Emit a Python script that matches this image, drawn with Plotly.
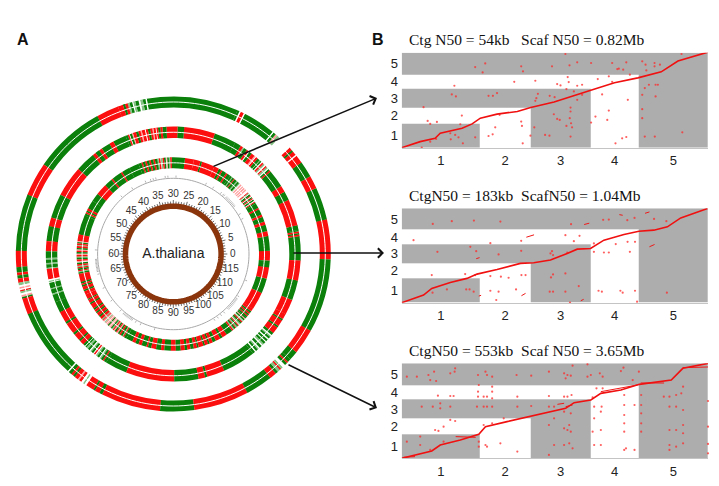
import plotly.graph_objects as go

W, H = 719, 486

# ---------- Panel A: rings, each segment = (class, span in degrees), counter-clockwise
CLASS_COLOR = {"g": "#0b800b", "r": "#fb0f0f", "w": "#ffffff", "lg": "#86c286", "lr": "#ff9c9c"}

ring1_start = -2
ring1 = [("r",14.8),("g",12),("r",4.8),("g",6),("r",3),("w",.5),("r",1.5),("g",.7),("r",1.2),("w",5.3),
 ("lg",1),("lr",.7),("g",1),("w",.5),("g",12),("w",.5),("r",1.2),("w",.5),("g",.8),("g",33.8),
 ("w",.5),("g",1),("lg",1),("w",.6),("g",1.2),("lg",.8),("w",.4),("g",1),("lg",.7),("r",1),("g",.8),("r",1.9),
 ("r",8.3),("g",26.5),("r",12.5),("g",21),("r",6),("g",2),("r",1),("g",1.2),("r",1.5),("lg",1),
 ("w",.7),("lr",.6),("w",.5),("r",.5),("lg",.7),("w",.7),("lr",.7),("g",.6),("r",6),("g",25.5),
 ("w",.5),("g",1.2),("r",.8),("g",.8),("r",1.4),("lr",.6),("r",1),("w",.8),("lg",.6),("w",.8),("r",3),
 ("g",.7),("r",1.8),("g",1.2),("r",22),("g",12.6),("r",20.4),("g",10),("r",2.5),("g",1),("lg",1),("r",.6),
 ("lg",.8),("w",1.2),("g",1),("r",.6),("g",1.2),("g",3.4),("r",9.4),("g",27.2)]

ring2_start = -3
ring2 = [("g",11),("r",.8),("g",.6),("r",.8),("g",.6),("g",2.2),("r",12),("g",4),("r",3),("g",8),
 ("r",.7),("g",.8),("w",.5),("lg",.8),("r",.6),("w",.6),("lg",.7),("r",.8),("w",.5),("g",.8),("w",.2),
 ("g",1.2),("r",1),("w",.3),("lr",.6),("r",1.6),("g",1.3),("w",.4),("r",1),("g",1.5),("lg",.6),("r",1.2),("g",2.8),
 ("g",10),("r",14),("g",3),("r",5),("g",1.8),("r",1),("g",1),("r",.8),("w",.3),("r",1),("lr",.5),("r",1),("g",1),
 ("r",1),("w",.4),("r",1.4),("lr",.6),("r",1),("g",1.1),("r",1.4),("lr",.5),("g",1),("w",.3),("r",.7),("g",1),
 ("g",6),("r",2),("g",4),("r",1.5),("g",2),("r",1.5),("g",9),("r",14),("g",11),("r",4),("g",6.7),("r",4.6),
 ("g",3),("lg",.8),("g",1.5),("lg",.7),("g",1.5),("lg",.5),("r",4.7),("w",.7),("lg",.6),("w",.3),("g",2.5),("lg",.5),
 ("g",2),("lg",.6),("g",3.4),("g",5),("r",5),("g",1),("r",5),("g",1),("r",3),("g",.8),("r",2),("g",1),("w",.3),("g",.7),
 ("lg",.8),("g",1),("w",.5),("lg",.6),("g",1),("w",.4),("r",.7),("w",.4),("lg",.8),("g",1),("w",.4),("lg",.6),("g",1),("r",.6),("g",1.2),
 ("g",10),("r",22),("g",11),("r",3),("g",1),("r",8),("g",15),
 ("g",1.2),("w",.6),("g",1),("lg",.6),("w",.6),("g",1.2),("w",.6),("lg",.8),("g",1),("w",.5),("g",1),("w",.6),("g",1),("lg",.6),("w",.5),("g",1.2),
 ("r",3),("g",.8),("r",3),("g",.7),("r",2.5),("r",7),("g",9),("r",9)]

ring3_start = -4
ring3 = [("r",6),("g",9),("r",3),("g",4),("r",2),("g",3),("r",1.5),("g",3.5),("r",1),("g",3),
 ("g",.8),("r",.6),("w",.5),("g",1),("w",.3),("r",.7),("g",.8),("w",.5),("r",.6),("g",1),("w",.4),("lg",.5),("r",.6),("w",1.5),
 ("lr",.8),("w",.4),("lr",1),("w",.4),("lr",.8),("w",.6),("lr",1),("w",.5),("lg",.6),("g",1.2),("lg",.8),("g",1.5),("r",.6),("g",1),("lg",.5),("g",1.3),
 ("g",2),("r",1),("g",2.5),("r",1),("g",1.5),("r",3),("r",8),("g",1),("r",4),("r",5.5),("g",8),
 ("r",1),("lg",.8),("g",1),("lr",.6),("w",.3),("g",1),("r",1),("lg",1),("w",.3),("r",1),("lg",.8),("g",1.5),("r",1),("g",1.6),("r",1),("g",1.5),("r",1),("g",1.5),("r",.8),("g",1.8),
 ("g",6),("g",5),("r",1),("g",6),("r",1),("g",5),("r",7),("g",5),("g",5.3),("r",1.4),("g",1),("r",1),("g",1.3),("g",12),
 ("r",4),("lr",.6),("g",.8),("r",1),("lg",.6),("r",1.2),("g",1),("lr",.7),("r",.8),("g",1),("lr",.8),("r",1),("lg",.7),("g",1),("r",1),("lr",.6),("w",.3),("g",1),("r",1),("lg",.8),("r",.8),("g",1),("r",.7),("lg",.6),("g",1),
 ("r",5),("g",1),("r",1),("g",1),("r",2),("g",1),("r",2),("r",3),("g",.7),("r",2),("g",1),("r",3),("g",1),("r",1.5),("g",1),("r",2),("g",1),("r",1.6),
 ("lg",.7),("r",.6),("lr",.8),("w",.3),("lg",.7),("lr",.8),("w",.3),("lr",.8),("g",.8),("lr",.7),("w",.3),("lr",.8),("g",.8),("lg",.7),("r",.7),("lr",.7),("g",1),("r",.7),("lr",.7),("g",1),
 ("r",1),("g",1.2),("lg",.5),("r",.7),("g",1.6),("g",4),("r",2),("g",2),("r",2),("g",3),("r",1),("g",2),("r",3),("g",3),("r",2),("g",4),("r",3),("g",3),("r",2.5),("g",1.5),("r",2),("g",2),("r",2),("g",1),("r",3),("g",1),("r",2),("g",1),("r",2),("g",2),("r",3),("g",1.5),("r",3),("g",4),
 ("r",1),("lg",.7),("g",1),("r",.5),("lg",.7),("g",.8),("r",.7),("w",.4),("lg",.8),("g",1),("r",.7),("lg",.6),("w",.4),("g",1),("lr",.6),("g",.8),
 ("g",1),("r",.7),("g",1),("r",1),("g",1),("r",1.8),("r",11),("g",9),("r",7),("g",4)]

ring_bands = [(146.5, 157.5), (116.0, 127.5), (85.7, 96.7)]

# genome scale of the inner circle (Mb, 120 Mb = full circle)
scale_labels = list(range(0, 120, 5))
scale_minor = list(range(0, 120, 1))
# gene marks on the grey circle (degrees)
gene_marks = [88,94,96,103,105,107,111,122,132,65,59,52,50,49,47,46,45,44,43,42,41,40,39,38,31,27,
              177,184,185,186,187,188,189,190,191,192,193,195,206,217,227,230,231,232,233,234,235,236,237,238,241,245,256,
              302,305,308,311,315,316,317,318,319,320,321,322,323,324,325,327,340]

# ---------- Panel B: chromosome boundaries in Mb
chr_edges = [0, 30.4, 50.1, 73.6, 92.2, 119.2]
chr_names = ["1", "2", "3", "4", "5"]

titles = ["Ctg N50 = 54kb\u00a0\u00a0\u00a0Scaf N50 = 0.82Mb",
          "CtgN50 = 183kb\u00a0\u00a0ScafN50 = 1.04Mb",
          "CtgN50 = 553kb\u00a0\u00a0Scaf N50 = 3.65Mb"]

d1_x = [0,7.2,13,15,23.5,27.4,30.6,37.1,45,50.2,59.3,65.8,73.6,82.8,91.9,101,107.5,119.2]
d1_y = [0,7.6,11.8,18.1,24.4,29.9,37,42.1,45.5,50.5,57.3,64.4,72.1,81.4,87.6,95.2,108.7,120]
p1_x = [7.8,8.5,10.1,11.1,13.7,20.5,19.5,21.1,23.4,22.8,28.6,18.9,20.8,22.1,19.1,23.8,11.1,13.4,28.6,32.5,31.5,33.8,35.5,37.1,33.8,35.4,36.4,38.1,43.8,46.5,47.2,46.5,46.8,47.1,50.1,52,53,52.4,52,51.6,58.5,55.8,57.5,57.6,59.5,59.2,60.5,61.5,60.5,61.8,63.7,65.3,68.3,64.6,65,64.1,67,68.3,70.2,65.7,65.7,65.4,65.9,64.1,66.3,65.7,68.3,70.2,73.7,73.7,75.4,76.3,78,80.6,81.9,80,80.6,83.2,85.8,87.4,88,81.9,83.9,84.5,86.2,87.4,88.8,93.6,94.9,95.2,98.4,98.4,100.5,94.6,96.2,98.8,99.7,93.6,98.8,93.6,93.6,94.6,98.5,109.2,108.9]
p1_y = [0,50.8,33.6,29.8,32.3,77.7,66.8,64.3,40.3,29.4,13,18.1,16,13,10.5,5.5,7.6,10.9,101.2,105.8,94.5,65.1,65.1,68.5,14.7,16.8,25.6,41.2,82.7,102.1,95.8,32.8,27.3,5.5,15.1,84,67.6,62.2,58.8,25.6,102.1,16,15.1,65.1,63.4,42,36.1,34.9,79.8,78.1,117.6,103.3,107.1,88.6,82.3,73.5,70.6,77.7,79,50.4,45.4,37,30.7,27.3,25.6,13.9,60.1,66.4,106.3,31.5,39.1,86.1,66.8,89.5,82.7,34.9,46.6,5.5,11.8,13.4,60.1,106.3,98.7,99.1,97.9,107.1,91.6,108.4,104.2,97,106.3,102.1,104.2,74.8,79,79,79,66.4,64.3,48.3,37,13.9,13.9,19.3,117.6]

d2_x = [0,8.5,11.7,18.9,25.4,29.3,37.1,46.2,51.4,57.9,64.4,68.3,73.5,78.7,86.5,92.3,98.1,103.4,108.6,113.8,119]
d2_y = [0,9.7,18.1,25.6,30.7,36.1,42,49.6,50.4,53.8,62.2,67.6,68.5,79,86.1,90.3,91.6,95.8,107.1,113.4,118.9]
s2_x = [48.5,51.5,None,71,73,None,94.7,96.4,None,96.4,98.4,None,46.6,48.2,None,69.7,70.8,None,29,30.3,None,30,30.9,None,84.7,86]
s2_y = [82.7,85.7,None,98.7,100.4,None,112.9,114.6,None,70.6,73.5,None,8.8,11.8,None,2.5,4.2,None,55.6,56.9,None,8.4,9.3,None,111.2,110.4]
p2_x = [4.6,12.1,19.5,28.1,38.4,65.9,78.4,80.6,87.8,90.6,98.2,103,34.5,26.7,29,13.9,37.7,46.5,46.5,63.7,69.2,67,57.9,58.5,58.9,64.4,74.8,78.7,80.6,88.8,87.9,90.8,83.3,74.8,11.7,24.7,28.6,34.5,38.6,41.6,46.6,48.2,58.9,58.1,63.7,68.9,57.6,58.9,63.7,12,17.6,25.1,26.4,28,34.5,37.7,44.5,36.8,65.5,76.6,77.9,85.1,86,90.8,103.2,91.6]
p2_y = [79,99.5,102.9,103.7,102.5,99.1,104.6,105,104.2,107.1,105.8,102.9,75.2,70.6,65.1,64.3,60.9,65.5,78.1,85.3,84.4,77.7,62.2,65.1,60.1,63.4,64.3,63.4,63.4,64.3,76.9,76.9,74,74.8,34.9,36.1,34.9,33.6,32.8,31.5,34.9,34.9,35.7,31.9,37,21,13.9,13.9,13.9,12.6,16.8,16.8,16.8,13.9,15.1,13.9,16.8,3.4,0,15.1,13.9,15.1,12.6,15.1,12.6,1.3]

d3_x = [0,5.9,11.7,15,22.8,30,32.6,41,50.1,57.9,63.8,67.1,73.6,77.5,85.3,92.5,104.9,109.4,119.2]
d3_y = [0,4.2,9.2,16.7,23,30.1,39.7,46,52.3,57.7,62.7,69.8,73.2,81.5,85.7,92.8,98.2,112.9,119.1]
s3_x = [0.7,5.2,None,21,28.8,None,60.6,63.2,None,63.8,66.5,None,77.5,91.8,None,93,102.1,None,109.4,119.2]
s3_y = [1.3,2.1,None,27.2,26.3,None,67.7,69,None,64.8,66.9,None,83.6,92,None,94.5,94.5,None,113.7,114.6]
p3_x = [2,5.9,10.4,12.6,11.1,13.4,18.9,20.8,20.6,29.7,32.6,33.2,35.2,44.7,50.4,57.3,63.2,64.5,65.8,63.8,66.5,72.3,72.3,73.6,77.1,78.2,85.3,86.3,92.3,89.9,30,
 14.1,18.9,20.2,29.7,29.7,31.9,33.2,35.2,35.2,35.2,45,57.3,63.2,64.5,66.1,74.3,75.8,78.2,86.6,93.2,102,104.2,106.8,109.5,108.8,119.2,
 7.8,12.1,15,15,18.9,29.3,31.9,33.2,35.2,45,50.4,57.3,59.3,63.2,65.8,74.9,77.8,86.6,90.6,93.2,104.2,106.8,109.5,93.2,
 16.3,13,14.3,18.9,20.8,7.2,35.2,31.9,57.3,63.2,64.5,65.8,65.2,74.3,77.5,86.6,86.6,93.2,93.2,104.2,106.8,109.5,109.5,119.2,59.3,74.9,77.5,86.6,
 2,7.2,11.1,16.3,30,30,32.6,33.2,38.4,45,57.3,59.3,63.2,65.2,66.5,74.9,77.5,87.3,86.6,90.6,104.2,104.2,106.8,109.5,119.2,119.2,39.7]
p3_y = [102.4,102.4,104.5,108.7,98.2,97,106.6,112.9,108.7,104.5,108.7,104.5,102.4,104.5,103.7,108.7,106.6,104.5,103.7,100.3,116.2,117.9,102.4,104.5,106.6,102.4,109.5,113.7,108.7,98.2,92,
 78.6,78.2,78.2,83.6,77.3,77.3,77.3,89.9,83.6,75.2,77.3,78.2,77.3,77.3,79.4,76.5,87.8,87.8,79.4,79.4,77.3,77.3,79.4,89.9,81.5,71.9,
 64.8,64.8,69,62.7,64.8,64.8,64.8,64.8,64.8,64.8,65.6,64.8,64.8,58.5,56.4,64.8,64.8,66.9,66.9,66.9,64.8,64.8,60.6,56.4,
 39.7,35.5,34.3,48.1,46.8,27.2,43.9,41.8,41.8,37.6,35.5,33.4,41.8,33.4,35.5,43.9,33.4,43.9,33.4,35.5,35.5,41.8,31.4,39.7,50.2,50.2,58.5,54.3,
 20.9,16.7,10.5,20.9,20.9,14.6,16.7,14.6,18.8,8.4,4.2,16.7,16.7,18.8,12.5,16.7,16.7,12.5,10.5,10.5,16.7,10.5,14.6,18.8,18,6.3,50.2]

# ---------- layout constants
CX, CY, RMAX = 173.3, 254.0, 160.0
panels_px = [(52.7, 147.7), (208.3, 302.7), (363.3, 458.3)]
PX0, PX1 = 401.7, 708.0
px = lambda v: v / W
py = lambda v: 1 - v / H

fig = go.Figure()

# rings
for segs, start, (r0, r1) in zip((ring1, ring2, ring3), (ring1_start, ring2_start, ring3_start), ring_bands):
    thetas, widths, colors, a = [], [], [], start
    fit = 360.0 / sum(s for _, s in segs)   # spans were read by eye; close each ring exactly
    for code, span in segs:
        span *= fit
        thetas.append(a + span / 2)
        widths.append(span + 0.05)
        colors.append(CLASS_COLOR[code])
        a += span
    fig.add_trace(go.Barpolar(theta=thetas, width=widths, base=[r0] * len(thetas), r=[r1 - r0] * len(thetas),
                              marker=dict(color=colors, line=dict(width=0)), subplot="polar", hoverinfo="skip"))
    circ = list(range(0, 361, 2))
    fig.add_trace(go.Scatterpolar(theta=circ, r=[(r0 + r1) / 2] * len(circ), mode="lines",
                                  line=dict(color="white", width=1.0), subplot="polar", hoverinfo="skip"))

# grey circle and gene marks
circ = list(range(0, 361, 2))
fig.add_trace(go.Scatterpolar(theta=circ, r=[75.7] * len(circ), mode="lines",
                              line=dict(color="#a8a8a8", width=1), subplot="polar"))
mt, mr = [], []
for a in gene_marks:
    mt += [a, a, None]; mr += [76.5, 78.5, None]
fig.add_trace(go.Scatterpolar(theta=mt, r=mr, mode="lines", line=dict(color="#808080", width=0.6), subplot="polar"))

# genome scale
mt, mr = [], []
for m in scale_minor:
    mt += [m * 3, m * 3, None]
    mr += [50, 54 if m % 5 == 0 else 52.5, None]
fig.add_trace(go.Scatterpolar(theta=mt, r=mr, mode="lines", line=dict(color="#444444", width=0.8), subplot="polar"))
fig.add_trace(go.Scatterpolar(theta=circ, r=[47.8] * len(circ), mode="lines",
                              line=dict(color="#8a350c", width=5.5), subplot="polar"))
fig.add_trace(go.Scatterpolar(theta=[m * 3 for m in scale_labels], r=[59.5] * len(scale_labels),
                              text=[str(m) for m in scale_labels], mode="text", subplot="polar",
                              textfont=dict(family="Liberation Sans", size=10, color="#333333")))
fig.add_trace(go.Scatterpolar(theta=[0], r=[0], text=["A.thaliana"], mode="text", subplot="polar",
                              textfont=dict(family="Liberation Sans", size=14, color="#222222")))

# dot plots
mid = [(a + b) / 2 for a, b in zip(chr_edges[:-1], chr_edges[1:])]
shade = [[1 if max(i, j) % 2 == 0 else 0 for j in range(5)] for i in range(5)]
series = [(d1_x, d1_y, None, None, p1_x, p1_y), (d2_x, d2_y, s2_x, s2_y, p2_x, p2_y), (d3_x, d3_y, s3_x, s3_y, p3_x, p3_y)]
layout_axes = {}
for k, ((top, bot), (dx, dy, sx, sy, dotx, doty)) in enumerate(zip(panels_px, series), start=1):
    xa, ya = f"x{k}", f"y{k}"
    fig.add_trace(go.Heatmap(x=chr_edges, y=chr_edges, z=shade, zmin=0, zmax=1, showscale=False, hoverinfo="skip",
                             colorscale=[[0, "#ffffff"], [1, "#adadad"]], xaxis=xa, yaxis=ya))
    fig.add_trace(go.Scatter(x=dotx, y=doty, mode="markers", xaxis=xa, yaxis=ya, cliponaxis=False,
                             marker=dict(color="#ff2a2a", size=2.2, opacity=0.75, line=dict(width=0))))
    if sx:
        fig.add_trace(go.Scatter(x=sx, y=sy, mode="lines", xaxis=xa, yaxis=ya, line=dict(color="#f01818", width=1.0)))
    fig.add_trace(go.Scatter(x=dx, y=dy, mode="lines", xaxis=xa, yaxis=ya, cliponaxis=False,
                             line=dict(color="#f01010", width=1.6)))
    tick = dict(tickvals=mid, ticktext=chr_names, ticks="outside", tickcolor="rgba(0,0,0,0)",
                tickfont=dict(family="Liberation Sans", size=13, color="#222222"), showgrid=False, zeroline=False)
    layout_axes["xaxis" if k == 1 else f"xaxis{k}"] = dict(
        domain=[px(PX0), px(PX1)], range=[0, 119.2], anchor=ya, ticklen=1, showline=True, linecolor="#c4c4c4", linewidth=1, **tick)
    layout_axes["yaxis" if k == 1 else f"yaxis{k}"] = dict(
        domain=[py(bot), py(top)], range=[0, 119.2], anchor=xa, ticklen=0, **tick)

annos = []
for (top, _), t in zip(panels_px, titles):
    annos.append(dict(x=px(407), y=py(top - 13), xref="paper", yref="paper", text=t, showarrow=False, xanchor="left",
                      yanchor="middle", font=dict(family="Liberation Serif", size=15.5, color="#111111")))
annos.append(dict(x=px(23), y=py(40), xref="paper", yref="paper", text="<b>A</b>", showarrow=False,
                  xanchor="center", yanchor="middle", font=dict(family="Liberation Sans", size=16, color="#111111")))
annos.append(dict(x=px(378), y=py(39), xref="paper", yref="paper", text="<b>B</b>", showarrow=False,
                  xanchor="center", yanchor="middle", font=dict(family="Liberation Sans", size=16, color="#111111")))
# arrows: (tail px, head px)
for (x0, y0), (x1, y1) in [((212, 167), (377, 98)), ((292, 253), (384, 253)), ((287, 364), (377, 408))]:
    annos.append(dict(x=px(x1), y=py(y1), xref="paper", yref="paper", ax=x0 - x1, ay=y0 - y1, axref="pixel", ayref="pixel",
                      text="", showarrow=True, arrowhead=4, arrowsize=1.2, arrowwidth=1.5, arrowcolor="#111111"))

fig.update_layout(
    width=W, height=H, margin=dict(l=0, r=0, t=0, b=0), paper_bgcolor="white", plot_bgcolor="white", showlegend=False,
    annotations=annos, barmode="overlay",
    polar=dict(domain=dict(x=[px(CX - RMAX), px(CX + RMAX)], y=[py(CY + RMAX), py(CY - RMAX)]),
               bgcolor="rgba(0,0,0,0)", radialaxis=dict(range=[0, RMAX], visible=False),
               angularaxis=dict(visible=False, rotation=0, direction="counterclockwise")),
    **layout_axes)
fig.write_html("out.html", config=dict(displayModeBar=False), post_script="document.body.style.margin='0';")
